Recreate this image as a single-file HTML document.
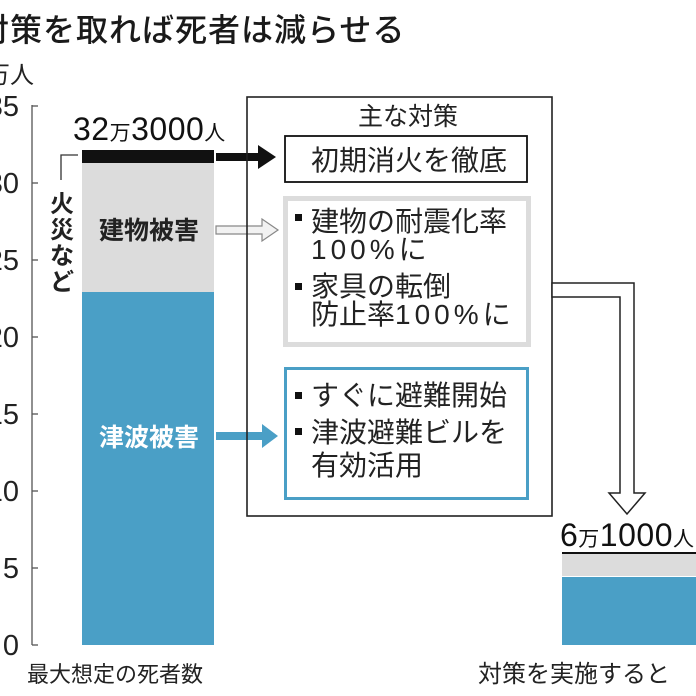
<!DOCTYPE html>
<html><head><meta charset="utf-8"><style>
html,body{margin:0;padding:0;background:#fff;}
svg{display:block;font-family:"Liberation Sans","Noto Sans CJK JP",sans-serif;}
.j{font-family:"Noto Sans CJK JP",sans-serif;}
.d{font-family:"Liberation Sans",sans-serif;letter-spacing:4px;}
</style></head><body>
<svg width="696" height="696" viewBox="0 0 696 696" xmlns="http://www.w3.org/2000/svg">
<rect width="696" height="696" fill="#fff"/>
<text x="-23" y="41" font-size="32" font-weight="500" fill="#1a1a1a" letter-spacing="1">対策を取れば死者は減らせる</text>
<text x="-14" y="83" font-size="24" fill="#222">万人</text>
<!-- axis -->
<g stroke="#555" stroke-width="1.3">
<line x1="32" y1="105" x2="32" y2="645"/>
<line x1="32" y1="106" x2="38" y2="106"/>
<line x1="32" y1="183" x2="38" y2="183"/>
<line x1="32" y1="260" x2="38" y2="260"/>
<line x1="32" y1="337" x2="38" y2="337"/>
<line x1="32" y1="414" x2="38" y2="414"/>
<line x1="32" y1="491" x2="38" y2="491"/>
<line x1="32" y1="568" x2="38" y2="568"/>
<line x1="32" y1="645" x2="38" y2="645"/>
</g>
<g font-size="29" fill="#222" text-anchor="end">
<text x="19" y="116">35</text><text x="19" y="193">30</text><text x="19" y="270">25</text>
<text x="19" y="347">20</text><text x="19" y="424">15</text><text x="19" y="501">10</text>
<text x="19" y="578">5</text><text x="19" y="655">0</text>
</g>
<!-- bar 1 -->
<rect x="82" y="150" width="132" height="13" fill="#111"/>
<rect x="82" y="163" width="132" height="129" fill="#dcdcdc"/>
<rect x="82" y="292" width="132" height="353" fill="#4a9fc6"/>
<text x="73" y="140" font-size="32" fill="#111" letter-spacing="0.5">32<tspan font-size="21">万</tspan>3000<tspan font-size="21">人</tspan></text>
<text x="149" y="239" font-size="25" font-weight="bold" fill="#222" text-anchor="middle">建物被害</text>
<text x="149" y="446" font-size="25" font-weight="bold" fill="#fff" text-anchor="middle">津波被害</text>
<polyline points="78,155 61,155 61,180" fill="none" stroke="#333" stroke-width="1.3"/>
<g font-size="24" font-weight="bold" fill="#222" text-anchor="middle">
<text x="62" y="212">火</text><text x="62" y="238">災</text><text x="62" y="264">な</text><text x="62" y="290">ど</text>
</g>
<!-- arrows -->
<polygon points="216,153 258,153 258,145 276,157 258,169 258,161 216,161" fill="#111"/>
<polygon points="216,226 262,226 262,219 278,230 262,241 262,234 216,234" fill="#f2f2f2" stroke="#888" stroke-width="1.2"/>
<polygon points="216,432 262,432 262,424 278,436 262,448 262,440 216,440" fill="#4a9fc6"/>
<!-- main box -->
<rect x="247" y="97" width="305" height="419" fill="none" stroke="#222" stroke-width="1.6"/>
<text x="408" y="125" font-size="25" fill="#222" text-anchor="middle">主な対策</text>
<rect x="285" y="136" width="242" height="46" fill="#fff" stroke="#111" stroke-width="1.8"/>
<g class="j" font-size="28" fill="#222">
<text x="311" y="170">初期消火を徹底</text>
</g>
<rect x="285.5" y="198.5" width="243" height="146" fill="#fff" stroke="#dcdcdc" stroke-width="5"/>
<g class="j" font-size="28" fill="#222">
<rect x="295" y="214" width="7" height="7" fill="#111"/>
<text x="311" y="231">建物の耐震化率</text>
<text x="311" y="259"><tspan class="d">100%</tspan>に</text>
<rect x="295" y="283" width="7" height="7" fill="#111"/>
<text x="311" y="296">家具の転倒</text>
<text x="311" y="324">防止率<tspan class="d">100%</tspan>に</text>
</g>
<rect x="285.5" y="368.5" width="242" height="130" fill="#fff" stroke="#4a9fc6" stroke-width="3"/>
<g class="j" font-size="28" fill="#222">
<rect x="295" y="392" width="7" height="7" fill="#111"/>
<text x="311" y="405">すぐに避難開始</text>
<rect x="295" y="428" width="7" height="7" fill="#111"/>
<text x="311" y="442">津波避難ビルを</text>
<text x="311" y="475">有効活用</text>
</g>
<!-- connector -->
<polygon points="552,283 634,283 634,493 645,493 627,514 609,493 620,493 620,297 552,297" fill="#fff" stroke="#222" stroke-width="1.5"/>
<!-- bar 2 -->
<text x="560" y="546" font-size="32" fill="#111" letter-spacing="0.5">6<tspan font-size="21">万</tspan>1000<tspan font-size="21">人</tspan></text>
<rect x="562" y="552" width="140" height="2" fill="#111"/>
<rect x="562" y="554" width="140" height="22" fill="#dcdcdc"/>
<rect x="562" y="577" width="140" height="68" fill="#4a9fc6"/>
<text x="27" y="682" font-size="22" fill="#222">最大想定の死者数</text>
<text x="478" y="682" font-size="24" fill="#222">対策を実施すると</text>
</svg>
</body></html>
